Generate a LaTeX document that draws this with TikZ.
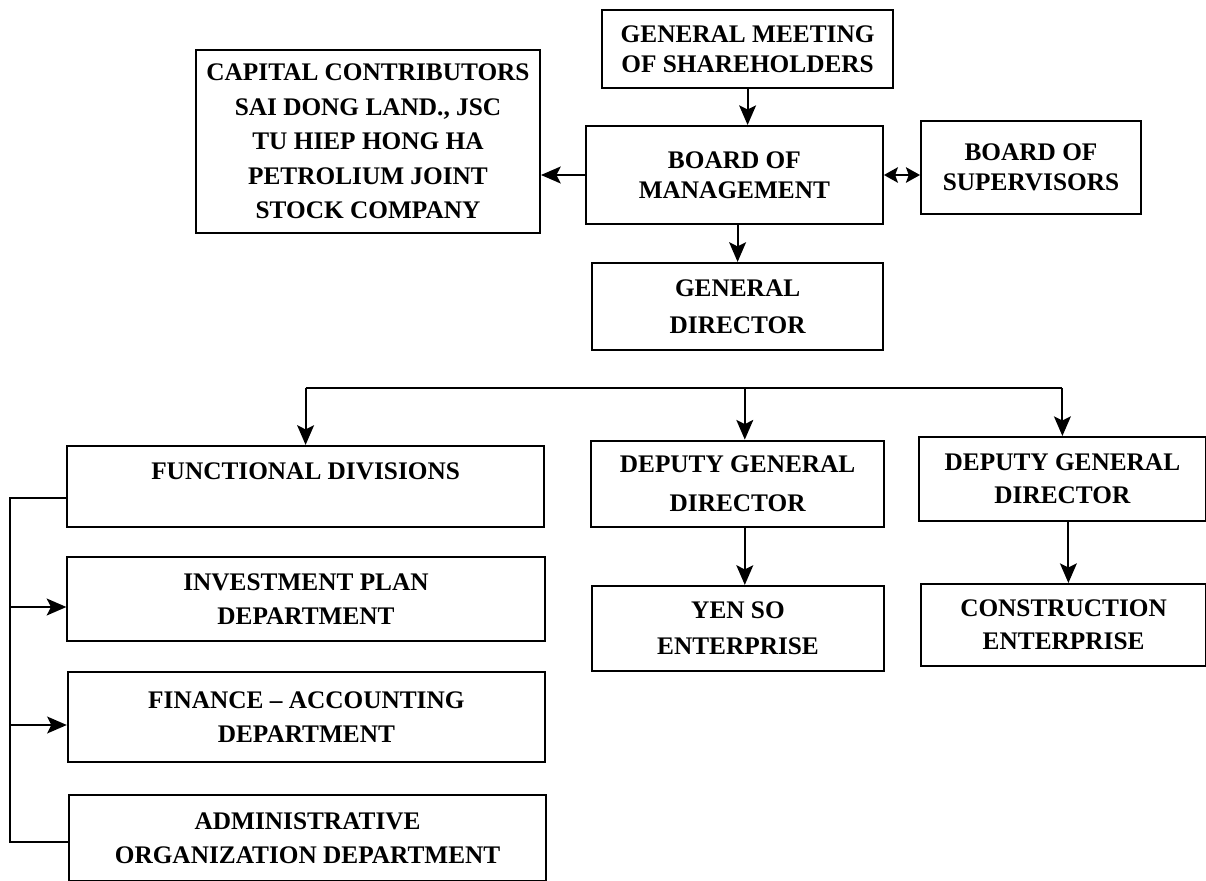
\documentclass[tikz,border=0pt]{standalone}
\usepackage{fontspec}
\setmainfont{Liberation Serif}
\usetikzlibrary{arrows.meta,positioning}

\tikzstyle{box} = [rectangle,
minimum width=7.3cm,
minimum height=2.15cm,
inner sep=0pt,
align=center,
draw=black,
line width=1.4pt,
font=\bfseries\fontsize{18}{21.5}\selectfont]
\tikzstyle{widebox} = [box,
minimum width=11.93cm,
minimum height=2.1cm]
\tikzstyle{line} = [line width=1.5pt]
\tikzstyle{arrow} = [line width=1.5pt,-{Stealth[length=14pt,width=12pt,inset=3pt]}]
\tikzstyle{twoway} = [line width=1.5pt,{Stealth[length=10pt,width=11pt,inset=2pt]}-{Stealth[length=10pt,width=11pt,inset=2pt]}]

\begin{document}
\begin{tikzpicture}

\useasboundingbox (0,0) rectangle (30.15,-22.025);

% Top of the company
\node (gms) [box, minimum width=7.275cm, minimum height=1.95cm] at (18.69,-1.225) {GENERAL MEETING\\OF SHAREHOLDERS};
\node (capital) [box, minimum width=8.6cm, minimum height=4.575cm] at (9.2,-3.54) {CAPITAL CONTRIBUTORS\\[3pt]SAI DONG LAND., JSC\\[3pt]TU HIEP HONG HA\\[3pt]PETROLIUM JOINT\\[3pt]STOCK COMPANY};
\node (bom) [box, minimum width=7.425cm, minimum height=2.45cm] at (18.36,-4.375) {BOARD OF\\MANAGEMENT};
\node (bos) [box, minimum width=5.5cm, minimum height=2.325cm] at (25.775,-4.19) {BOARD OF\\SUPERVISORS};
\node (gd) [box, minimum width=7.275cm, minimum height=2.175cm] at (18.44,-7.66) {GENERAL\\[5pt]DIRECTOR};

% Second level
\node (func) [widebox, minimum height=2.025cm] at (7.64,-12.16) {\raisebox{0.75cm}{FUNCTIONAL DIVISIONS}};
\node (deputyA) [box, minimum width=7.325cm] at (18.44,-12.09) {DEPUTY GENERAL\\[6pt]DIRECTOR};
\node (deputyB) [box, minimum width=7.175cm, minimum height=2.1cm] at (26.56,-11.975) {DEPUTY GENERAL\\[2pt]DIRECTOR};
\node (yenso) [box, minimum height=2.125cm] at (18.45,-15.71) {YEN SO\\[4pt]ENTERPRISE};
\node (construct) [box, minimum width=7.125cm, minimum height=2.05cm] at (26.59,-15.625) {CONSTRUCTION\\[2pt]ENTERPRISE};

% Departments
\node (invest) [widebox] at (7.65,-14.975) {INVESTMENT PLAN\\[3pt]DEPARTMENT};
\node (finance) [widebox, minimum height=2.25cm] at (7.66,-17.925) {FINANCE -- ACCOUNTING\\[3pt]DEPARTMENT};
\node (admin) [widebox, minimum height=2.15cm] at (7.69,-20.95) {ADMINISTRATIVE\\[3pt]ORGANIZATION DEPARTMENT};

\coordinate (bus) at (0,-9.7);
\coordinate (rail) at (0.25,0);

% Arrows
\draw [arrow] (gms.south) -- (gms.south |- bom.north);
\draw [arrow] (bom.west) -- (capital.east |- bom.west);
\draw [twoway] (bom.east) -- (bos.west |- bom.east);
\draw [arrow] (gd.north |- bom.south) -- (gd.north);

\draw [line] (func.north |- bus) -- (deputyB.north |- bus);
\draw [arrow] (func.north |- bus) -- (func.north);
\draw [arrow] ([xshift=0.18cm]deputyA.north |- bus) -- ([xshift=0.18cm]deputyA.north);
\draw [arrow] (deputyB.north |- bus) -- (deputyB.north);

\draw [arrow] ([xshift=0.18cm]deputyA.south) -- ([xshift=0.18cm]deputyA.south |- yenso.north);
\draw [arrow] ([xshift=0.15cm]deputyB.south) -- ([xshift=0.15cm]deputyB.south |- construct.north);

\draw [line] ([yshift=-0.3cm]func.west) -| ([yshift=-0.1cm]rail |- admin.west) -- ([yshift=-0.1cm]admin.west);
\draw [arrow] ([yshift=-0.2cm]rail |- invest.west) -- ([yshift=-0.2cm]invest.west);
\draw [arrow] ([yshift=-0.2cm]rail |- finance.west) -- ([yshift=-0.2cm]finance.west);

\end{tikzpicture}
\end{document}
